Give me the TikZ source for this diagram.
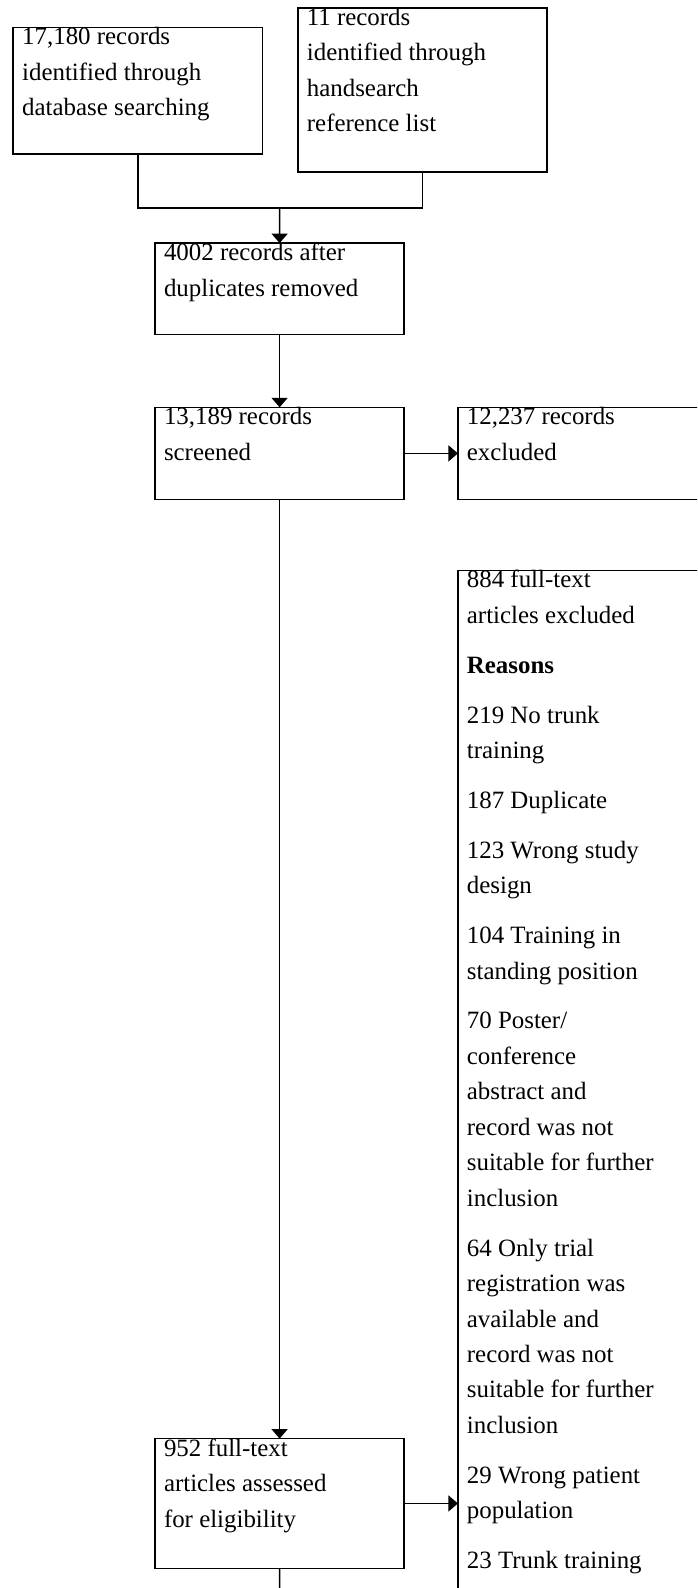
\documentclass[tikz,border=0pt]{standalone}
\usepackage{fontspec}
\setmainfont{Liberation Serif}
\usetikzlibrary{arrows.meta}
\tikzset{
  boxs/.style={draw, line width=1.6pt, rectangle, inner sep=0pt, outer sep=0pt, anchor=north west},
  txt/.style={anchor=north west, inner sep=0pt, outer sep=0pt, align=left,
    font=\fontsize{24.9}{35.46}\selectfont},
  conn/.style={line width=1.6pt},
  arr/.style={line width=1.6pt, -{Triangle[length=9.5pt,width=16pt]}}
}
\newcommand{\fs}{\rule{0pt}{17pt}}
\begin{document}
\begin{tikzpicture}[x=1pt,y=-1pt]
\useasboundingbox (0,0) rectangle (697,1588);
\clip (0,0) rectangle (697,1588);
\fill[white] (0,0) rectangle (697,1588);
% boxes
\node[boxs, minimum width=249.2pt, minimum height=126.6pt] (b1) at (13.2,27.4) {};
\node[boxs, minimum width=249.2pt, minimum height=164pt] (b2) at (297.9,8.1) {};
\node[boxs, minimum width=249.2pt, minimum height=91.2pt] (b3) at (155,243.1) {};
\node[boxs, minimum width=249.2pt, minimum height=92.2pt] (b4) at (155,407.3) {};
\node[boxs, minimum width=262pt, minimum height=92.2pt] (b5) at (457.9,407.3) {};
\node[boxs, minimum width=249.2pt, minimum height=129.7pt] (b6) at (155,1438.6) {};
\node[boxs, minimum width=262pt, minimum height=1100pt] (b7) at (457.9,570.4) {};
% texts
\node[txt] (t1) at ([xshift=9pt]b1.north west) {\fs 17,180 records\\identified through\\database searching};
\node[txt] (t2) at ([xshift=9pt]b2.north west) {\fs 11 records\\identified through\\handsearch\\reference list};
\node[txt] (t3) at ([xshift=9pt]b3.north west) {\fs 4002 records after\\duplicates removed};
\node[txt] (t4) at ([xshift=9pt]b4.north west) {\fs 13,189 records\\screened};
\node[txt] (t5) at ([xshift=9pt]b5.north west) {\fs 12,237 records\\excluded};
\node[txt] (t6) at ([xshift=9pt]b6.north west) {\fs 952 full-text\\articles assessed\\for eligibility};
\node[txt] (t7) at ([xshift=9pt]b7.north west) {\fs 884 full-text\\articles excluded\\[14.4pt]
\textbf{Reasons}\\[14.4pt]
219 No trunk\\training\\[14.4pt]
187 Duplicate\\[14.4pt]
123 Wrong study\\design\\[14.4pt]
104 Training in\\standing position\\[14.4pt]
70 Poster/\\conference\\abstract and\\record was not\\suitable for further\\inclusion\\[14.4pt]
64 Only trial\\registration was\\available and\\record was not\\suitable for further\\inclusion\\[14.4pt]
29 Wrong patient\\population\\[14.4pt]
23 Trunk training};
% connectors
\coordinate (j) at (279.6,207.7);
\coordinate (bot) at (279.6,1600);
\draw[conn] (b1.south) -- (b1.south |- j) -- (b2.south |- j) -- (b2.south);
\draw[arr] (j) -- (b3.north);
\draw[arr] (b3.south) -- (b4.north);
\draw[arr] (b4.east) -- (b5.west);
\draw[arr] (b4.south) -- (b6.north);
\draw[arr] (b6.east) -- (b6.east -| b7.west);
\draw[conn] (b6.south) -- (bot);
\end{tikzpicture}
\end{document}
